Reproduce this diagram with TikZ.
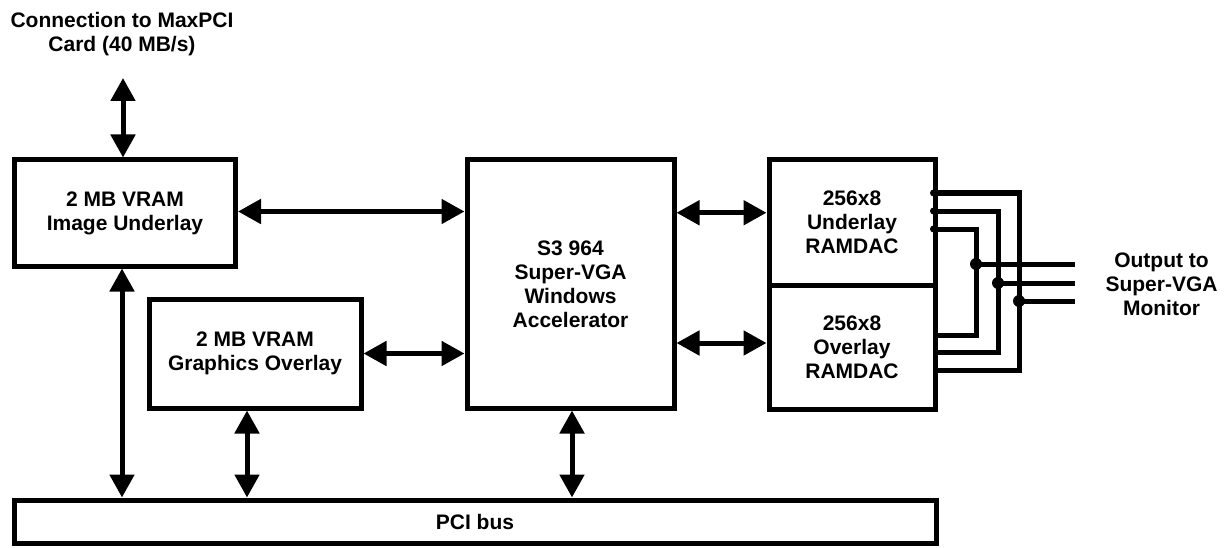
\documentclass[tikz,border=0pt]{standalone}
\usepackage{fontspec}
\setmainfont{Liberation Sans}
\definecolor{BInk}{HTML}{000000}
\definecolor{BPaper}{HTML}{FFFFFF}
\usetikzlibrary{arrows.meta,positioning,calc}

\begin{document}
\begin{tikzpicture}[x=1pt,y=-1pt,
    blockbox/.style={rectangle,draw=BInk,fill=BPaper,line width=5pt,align=center,
                     font=\fontsize{21}{24}\selectfont\bfseries,inner sep=0pt},
    dblarrow/.style={draw=BInk,line width=5pt,
                     {Triangle[length=23pt,width=24pt]}-{Triangle[length=23pt,width=24pt]}},
    wire/.style={draw=BInk,line width=5pt},
    plainlabel/.style={align=center,font=\fontsize{21}{24}\selectfont\bfseries,inner sep=0pt}]
    \useasboundingbox (0,0) rectangle (1225,548);

    % blocks
    \node[blockbox,minimum width=221pt,minimum height=106pt] (vramimg) at (125,213)
        {2 MB VRAM\\Image Underlay};
    \node[blockbox,minimum width=212pt,minimum height=109pt] (vramgfx) at (255,353.5)
        {2 MB VRAM\\Graphics Overlay};
    \node[blockbox,minimum width=207pt,minimum height=248pt] (s3) at (570.5,284)
        {S3 964\\Super-VGA\\Windows\\Accelerator};
    \node[blockbox,minimum width=166pt,minimum height=125.5pt] (ramup) at (852,222.75)
        {256x8\\Underlay\\RAMDAC};
    \node[blockbox,minimum width=166pt,minimum height=124pt] (ramlo) at (852,347.5)
        {256x8\\Overlay\\RAMDAC};
    \node[blockbox,minimum width=922pt,minimum height=43pt] (pci) at (475,521.5)
        {PCI bus};

    % outside labels
    \node[plainlabel] (maxpci) at (122,34) {Connection to MaxPCI\\Card (40 MB/s)};
    \node[plainlabel] (monitor) at (1161.5,284) {Output to\\Super-VGA\\Monitor};
    \coordinate (cardlink) at (123,78);
    \coordinate (outend) at (1075,284);

    % data paths
    \draw[dblarrow] (cardlink) -- (cardlink |- vramimg.north);
    \draw[dblarrow] ([yshift=1.5pt]vramimg.east) -- ([yshift=1.5pt]vramimg.east -| s3.west);
    \draw[dblarrow] (vramgfx.east) -- (vramgfx.east -| s3.west);
    \draw[dblarrow] ([yshift=10pt]ramup.west -| s3.east) -- ([yshift=10pt]ramup.west);
    \draw[dblarrow] ([yshift=4.5pt]ramlo.west -| s3.east) -- ([yshift=4.5pt]ramlo.west);
    \draw[dblarrow] ([xshift=-3pt]vramimg.south) -- ([xshift=-3pt]vramimg.south |- pci.north);
    \draw[dblarrow] ([xshift=-8pt]vramgfx.south) -- ([xshift=-8pt]vramgfx.south |- pci.north);
    \draw[dblarrow] ([xshift=1.5pt]s3.south) -- ([xshift=1.5pt]s3.south |- pci.north);

    % RAMDAC outputs
    \coordinate (tapa) at (976,264);
    \coordinate (tapb) at (998,283);
    \coordinate (tapc) at (1019,301);
    \draw[wire] ([yshift=29.75pt]ramup.east) -| (tapc) |- ([yshift=-22.5pt]ramlo.east);
    \draw[wire] ([yshift=11.75pt]ramup.east) -| (tapb) |- ([yshift=-4.5pt]ramlo.east);
    \draw[wire] ([yshift=-6.25pt]ramup.east) -| (tapa) |- ([yshift=12.5pt]ramlo.east);
    \foreach \s in {29.75,11.75,-6.25}
        \fill[BInk] ([xshift=-4pt,yshift=\s pt]ramup.east) circle (3.5pt);
    \foreach \t in {tapa,tapb,tapc}{
        \fill[BInk] (\t) circle (6pt);
        \draw[wire] (\t) -- (\t -| outend);
    }
\end{tikzpicture}
\end{document}
